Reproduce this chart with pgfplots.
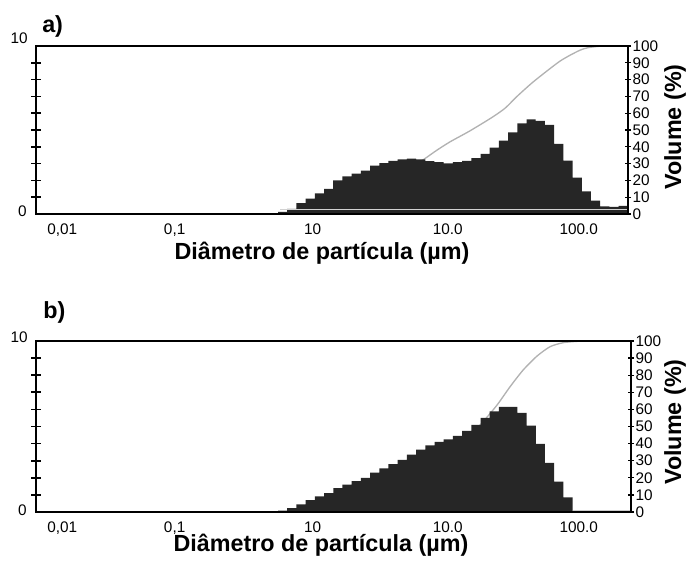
\documentclass[border=0pt]{standalone}
\usepackage{fontspec}
\setmainfont{Liberation Sans}
\usepackage{pgfplots}
\pgfplotsset{compat=1.18}
\usepackage{pgfplotstable}

\definecolor{histcol}{HTML}{262626}
\definecolor{curvecol}{HTML}{B2B2B2}
\definecolor{gridcol}{HTML}{D4D4D4}
\newcommand\ticksize{\fontsize{11.5}{13}\selectfont}
\newcommand\labsize{\bfseries\fontsize{17.5}{20}\selectfont}

% histogram a): left bin edge (um), volume (%)
\pgfplotstableread{
d h
0.5777 0.12
0.6734 0.30
0.7851 0.64
0.9154 0.92
1.0673 1.22
1.2444 1.50
1.4510 2.00
1.6918 2.24
1.9724 2.40
2.2997 2.58
2.6813 2.88
3.1261 3.03
3.6448 3.16
4.2495 3.25
4.9545 3.30
5.7766 3.25
6.7350 3.15
7.8524 3.08
9.1552 3.02
10.673 3.08
12.444 3.16
14.510 3.32
16.918 3.58
19.724 3.95
22.997 4.37
26.813 4.86
31.261 5.40
36.448 5.63
42.495 5.55
49.545 5.30
57.766 4.17
67.350 3.18
78.524 2.17
91.552 1.34
106.73 0.79
124.44 0.45
145.10 0.42
169.18 0.49
197.24 0.49
}\histA

% histogram b)
\pgfplotstableread{
d h
0.5777 0.08
0.6734 0.22
0.7851 0.45
0.9154 0.70
1.0673 0.92
1.2444 1.10
1.4510 1.40
1.6918 1.60
1.9724 1.80
2.2997 2.00
2.6813 2.30
3.1261 2.55
3.6448 2.80
4.2495 3.05
4.9545 3.35
5.7766 3.65
6.7350 3.90
7.8524 4.10
9.1552 4.25
10.673 4.45
12.444 4.75
14.510 5.10
16.918 5.50
19.724 5.88
22.997 6.15
26.813 6.15
31.261 5.80
36.448 5.05
42.495 3.98
49.545 2.87
57.766 1.78
67.350 0.85
78.524 0.85
}\histB

% cumulative volume a)
\pgfplotstableread{
d p
0.0102 0
0.5777 0
0.832 1
1.44 5
3.16 17
5.21 27
6.70 33
8.18 38
10.2 43
14.2 49.5
20.5 57.5
25.5 63
31.1 70
39.9 78
52.1 85.6
63.7 91
75.3 94.5
88.9 97.5
101.6 99
130.6 100
198 100
}\cumA

% cumulative volume b)
\pgfplotstableread{
d p
0.0102 0
0.5777 0
0.92 0.7
1.44 3.5
3.11 12.5
6.70 28
10.5 37
14.2 45
17.3 52
22.3 62.6
27.7 73.3
34.4 83
43.4 91.2
54.0 96.7
67.0 99
84.7 99.8
105 100
208 100
}\cumB

\begin{document}
\begin{tikzpicture}
% ---------- panel a ----------
\begin{axis}[at={(27pt,261.75pt)}, anchor=south west, scale only axis,
    width=444pt, height=126pt,
    xmode=log, xmin=0.0102, xmax=198, ymin=0, ymax=100,
    xtick=\empty,
    minor xtick={0.02,0.05,0.1,0.2,0.5,1,2,5,10,20,50,100},
    xminorgrids, minor tick length=0pt,
    minor x grid style={gridcol, line width=0.9pt, densely dotted},
    ytick={0,10,...,100},
    yticklabels={0,10,20,30,40,50,60,70,80,90,100},
    ytick pos=right, yticklabel pos=right,
    tick align=center, major tick length=4.5pt,
    ytick style={line width=1pt, black},
    axis line style={line width=1.5pt},
    tick label style={font=\ticksize},
    yticklabel style={inner xsep=1pt}]
  \addplot[curvecol, line width=1pt, smooth, tension=0.4] table[x=d,y=p]{\cumA};
\end{axis}
\begin{axis}[at={(27pt,261.75pt)}, anchor=south west, scale only axis,
    width=444pt, height=126pt,
    xmode=log, xmin=0.0102, xmax=198, ymin=0, ymax=10,
    axis on top,
    xtick={0.0158,0.103,1.03,9.8,87},
    xticklabels={{0,01},{0,1},10,10.0,100.0},
    xtick style={draw=none},
    minor tick length=0pt,
    ytick={1,...,9}, yticklabels={,,,,,,,,},
    ytick pos=left,
    tick align=center, major tick length=7pt,
    ytick style={line width=1.3pt, black},
    axis line style={line width=1.5pt},
    tick label style={font=\ticksize}]
  \addplot[const plot, fill=histcol, draw=none] table[x=d,y=h]{\histA} \closedcycle;
  \addplot[gray!35, line width=0.5pt] coordinates {(0.6,0.25) (198,0.25)};
\end{axis}
% ---------- panel b ----------
\begin{axis}[at={(27pt,38.25pt)}, anchor=south west, scale only axis,
    width=446.25pt, height=128.25pt,
    xmode=log, xmin=0.0102, xmax=208, ymin=0, ymax=100,
    xtick=\empty,
    minor xtick={0.02,0.05,0.1,0.2,0.5,1,2,5,10,20,50,100},
    xminorgrids, minor tick length=0pt,
    minor x grid style={gridcol, line width=0.9pt, densely dotted},
    ytick={0,10,...,100},
    yticklabels={0,10,20,30,40,50,60,70,80,90,100},
    ytick pos=right, yticklabel pos=right,
    tick align=center, major tick length=4.5pt,
    ytick style={line width=1pt, black},
    axis line style={line width=1.5pt},
    tick label style={font=\ticksize},
    yticklabel style={inner xsep=1pt}]
  \addplot[curvecol, line width=1pt, smooth, tension=0.4] table[x=d,y=p]{\cumB};
\end{axis}
\begin{axis}[at={(27pt,38.25pt)}, anchor=south west, scale only axis,
    width=446.25pt, height=128.25pt,
    xmode=log, xmin=0.0102, xmax=208, ymin=0, ymax=10,
    axis on top,
    xtick={0.0158,0.103,1.03,9.8,87},
    xticklabels={{0,01},{0,1},10,10.0,100.0},
    xtick style={draw=none},
    minor tick length=0pt,
    ytick={1,...,9}, yticklabels={,,,,,,,,},
    ytick pos=left,
    tick align=center, major tick length=7pt,
    ytick style={line width=1.3pt, black},
    axis line style={line width=1.5pt},
    tick label style={font=\ticksize}]
  \addplot[const plot, fill=histcol, draw=none] table[x=d,y=h]{\histB} \closedcycle;
  \addplot[gray!40, line width=0.5pt] coordinates {(79,0.12) (208,0.12)};
\end{axis}
% ---------- texts ----------
\node[anchor=base west, inner sep=0, font=\labsize] at (31.5pt,397.5pt) {a)};
\node[anchor=base west, inner sep=0, font=\labsize] at (32.25pt,183pt) {b)};
\node[anchor=base, inner sep=0, font=\labsize] at (241.5pt,227.25pt) {Diâmetro de partícula (µm)};
\node[anchor=base, inner sep=0, font=\labsize] at (240.75pt,8.25pt) {Diâmetro de partícula (µm)};
\node[rotate=90, inner sep=0, font=\labsize] at (506.25pt,327pt) {Volume (\%)};
\node[rotate=90, inner sep=0, font=\labsize] at (506.25pt,105.75pt) {Volume (\%)};
\node[anchor=east, inner sep=0, font=\ticksize] at (21pt,393.75pt) {10};
\node[anchor=east, inner sep=0, font=\ticksize] at (20.25pt,264pt) {0};
\node[anchor=east, inner sep=0, font=\ticksize] at (21pt,169.5pt) {10};
\node[anchor=east, inner sep=0, font=\ticksize] at (20.25pt,39.75pt) {0};
\pgfresetboundingbox
\useasboundingbox (0,0) rectangle (516pt,422.25pt);
\end{tikzpicture}
\end{document}
